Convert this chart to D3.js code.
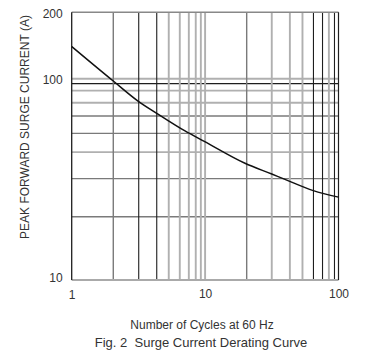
<!doctype html>
<html lang="en">
  <head>
    <meta charset="UTF-8" />
    <title>Fig. 2 Surge Current Derating Curve</title>
    <script src="https://d3js.org/d3.v7.min.js"></script>
    <style>
      body {
        margin: 0;
        background: #fff;
      }
      text {
        font-family: 'Liberation Sans', Arial, sans-serif;
        fill: #333;
      }
      .curve {
        fill: none;
        stroke: #111;
        stroke-width: 1.5px;
      }
    </style>
  </head>
  <body>
    <svg width="371" height="358"></svg>
    <script>
      // surge current curve
      const cycles = [1, 2.05, 3.18, 4.34, 7.07, 9.86, 19.9, 31.6, 39.7, 64.7, 100];
      const current = [140, 97.4, 77, 67.3, 55, 48.8, 38, 33.6, 31.6, 27.8, 25.8];

      // grid lines as drawn on the sheet (0 = light, 1 = medium, 2 = dark)
      const xGrid = [2.05, 3.18, 4.34, 5.34, 6.46, 7.55, 8.51, 9.29, 10, 20.5, 31.6, 43.2, 53.7, 64.9, 75.9, 84.7, 93.3];
      const xGridTone = [1, 2, 2, 0, 0, 0, 0, 0, 0, 1, 0, 0, 0, 2, 2, 0, 2];
      const yGrid = [100, 94.5, 87.2, 75.9, 65.3, 53.5, 43.2, 31.9, 20.6];
      const yGridTone = [0, 2, 0, 0, 1, 1, 0, 1, 1];

      const xTicks = [1, 10, 100];
      const yTicks = [10, 100, 200];

      const svg = d3.select('svg');

      const x = d3.scaleLog().domain([1, 100]).range([71.7, 338.5]);
      const y = d3.scaleLog().domain([10, 100, 200]).range([280, 78.7, 12.3]);

      const toneColor = ['#b0b0b0', '#7a7a7a', '#1e1e1e'];
      const toneWidth = [1.9, 1.4, 1.1];

      // horizontal grid
      svg
        .append('g')
        .selectAll('line')
        .data(yGrid)
        .enter()
        .append('line')
        .attr('x1', x(1))
        .attr('x2', x(100))
        .attr('y1', (d) => y(d))
        .attr('y2', (d) => y(d))
        .attr('stroke', (d, i) => toneColor[yGridTone[i]])
        .attr('stroke-width', (d, i) => toneWidth[yGridTone[i]]);

      // vertical grid
      svg
        .append('g')
        .selectAll('line')
        .data(xGrid)
        .enter()
        .append('line')
        .attr('y1', y(10))
        .attr('y2', y(200))
        .attr('x1', (d) => x(d))
        .attr('x2', (d) => x(d))
        .attr('stroke', (d, i) => toneColor[xGridTone[i]])
        .attr('stroke-width', (d, i) => toneWidth[xGridTone[i]]);

      // frame
      svg.append('line')
        .attr('x1', x(1)).attr('x2', x(100))
        .attr('y1', y(200)).attr('y2', y(200))
        .attr('stroke', '#888').attr('stroke-width', 1.4);
      svg.append('line')
        .attr('x1', x(1)).attr('x2', x(100))
        .attr('y1', y(10)).attr('y2', y(10))
        .attr('stroke', '#aaa').attr('stroke-width', 2);
      svg.append('line')
        .attr('x1', x(1)).attr('x2', x(1))
        .attr('y1', y(10)).attr('y2', y(200))
        .attr('stroke', '#1e1e1e').attr('stroke-width', 1.3);
      svg.append('line')
        .attr('x1', x(100)).attr('x2', x(100))
        .attr('y1', y(10)).attr('y2', y(200))
        .attr('stroke', '#1e1e1e').attr('stroke-width', 1.2);

      // curve
      const line = d3
        .line()
        .x((d) => x(d[0]))
        .y((d) => y(d[1]))
        .curve(d3.curveMonotoneX);

      svg
        .append('path')
        .datum(cycles.map((c, i) => [c, current[i]]))
        .attr('class', 'curve')
        .attr('d', line);

      // axes (labels only)
      const xAxis = svg
        .append('g')
        .attr('transform', `translate(0,${y(10)})`)
        .call(d3.axisBottom(x).tickValues(xTicks).tickSize(0).tickPadding(8).tickFormat(d3.format('d')));
      const yAxis = svg
        .append('g')
        .attr('transform', `translate(${x(1)},0)`)
        .call(d3.axisLeft(y).tickValues(yTicks).tickSize(0).tickPadding(9).tickFormat(d3.format('d')));

      [xAxis, yAxis].forEach((g) => {
        g.select('.domain').remove();
        g.selectAll('text')
          .style('font-size', '12px')
          .attr('fill', '#333')
          .style('font-family', "'Liberation Sans', Arial, sans-serif");
      });
      xAxis.selectAll('text').attr('dy', (d) => (d === 1 ? '0.95em' : '0.8em'));
      yAxis.selectAll('text').attr('dy', (d) => (d === 10 ? '0.1em' : '0.4em'));

      // titles
      svg
        .append('text')
        .attr('transform', 'translate(29,127) rotate(-90)')
        .attr('text-anchor', 'middle')
        .style('font-size', '12px')
        .text('PEAK FORWARD SURGE CURRENT (A)');

      svg
        .append('text')
        .attr('x', 202)
        .attr('y', 329)
        .attr('text-anchor', 'middle')
        .style('font-size', '12px')
        .text('Number of Cycles at 60 Hz');

      svg
        .append('text')
        .attr('x', 201)
        .attr('y', 347)
        .attr('text-anchor', 'middle')
        .style('font-size', '13px')
        .style('white-space', 'pre')
        .text('Fig. 2  Surge Current Derating Curve');
    </script>
  </body>
</html>
